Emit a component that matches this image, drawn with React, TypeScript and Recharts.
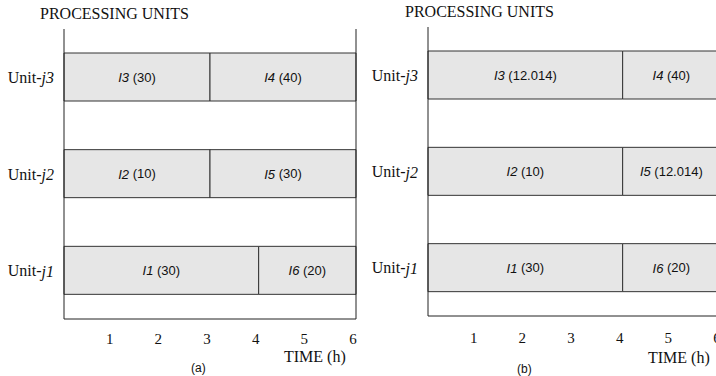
import React from 'react';
import { BarChart, Bar, XAxis, YAxis, ReferenceLine, LabelList } from 'recharts';

// unit rows, top to bottom
const unitIds = ['3', '2', '1'];
const timeTicks = [1, 2, 3, 4, 5, 6];

// panel (a)
const aFirstTask = ['I3', 'I2', 'I1'];
const aFirstHours = [3, 3, 4];
const aFirstValue = ['30', '10', '30'];
const aSecondTask = ['I4', 'I5', 'I6'];
const aSecondHours = [3, 3, 2];
const aSecondValue = ['40', '30', '20'];

// panel (b)
const bFirstTask = ['I3', 'I2', 'I1'];
const bFirstHours = [4, 4, 4];
const bFirstValue = ['12.014', '10', '30'];
const bSecondTask = ['I4', 'I5', 'I6'];
const bSecondHours = [2, 2, 2];
const bSecondValue = ['40', '12.014', '20'];

const SERIF = '"Liberation Serif", "Times New Roman", serif';
const SANS = '"Liberation Sans", Arial, sans-serif';
const LINE = '#222';
const FILL = '#e6e6e6';

const makeLabel = (tasks: string[], values: string[]) => (props: any) => {
  const { x, y, width, height, index } = props;
  return (
    <text
      x={x + width / 2}
      y={y + height / 2}
      textAnchor="middle"
      dominantBaseline="central"
      fontFamily={SANS}
      fontSize={13}
      fill="#111"
    >
      <tspan fontStyle="italic">{tasks[index]}</tspan>
      {' (' + values[index] + ')'}
    </text>
  );
};

const UnitTick = (props: any) => {
  const { x, y, payload } = props;
  return (
    <text x={x - 2} y={y} textAnchor="end" dominantBaseline="central" fontFamily={SERIF} fontSize={16} fill="#111">
      Unit-<tspan fontStyle="italic">j{payload.value}</tspan>
    </text>
  );
};

const makeTimeTick = (dy: number) => (props: any) => {
  const { x, y, payload } = props;
  return (
    <text x={x - 3} y={y} dy={dy} textAnchor="middle" fontFamily={SERIF} fontSize={15} fill="#111">
      {payload.value}
    </text>
  );
};

interface PanelProps {
  firstTask: string[];
  firstHours: number[];
  firstValue: string[];
  secondTask: string[];
  secondHours: number[];
  secondValue: string[];
  yWidth: number;
  top: number;
  bottom: number;
  tickDy: number;
}

const Panel: React.FC<PanelProps> = (p) => {
  const data = unitIds.map((u, i) => ({
    unit: u,
    first: p.firstHours[i],
    second: p.secondHours[i],
  }));
  return (
    <BarChart
      width={p.yWidth + 296}
      height={376}
      data={data}
      layout="vertical"
      margin={{ top: p.top, right: 4, left: 0, bottom: p.bottom - 30 }}
    >
      <XAxis
        type="number"
        domain={[0, 6]}
        ticks={timeTicks}
        axisLine={{ stroke: LINE }}
        tickLine={false}
        height={30}
        tick={makeTimeTick(p.tickDy)}
      />
      <YAxis
        type="category"
        dataKey="unit"
        width={p.yWidth}
        axisLine={{ stroke: LINE }}
        tickLine={false}
        tick={<UnitTick />}
      />
      <ReferenceLine x={6} stroke={LINE} />
      <Bar dataKey="first" stackId="s" fill={FILL} stroke="#333" barSize={48} isAnimationActive={false}>
        <LabelList content={makeLabel(p.firstTask, p.firstValue)} />
      </Bar>
      <Bar dataKey="second" stackId="s" fill={FILL} stroke="#333" barSize={48} isAnimationActive={false}>
        <LabelList content={makeLabel(p.secondTask, p.secondValue)} />
      </Bar>
    </BarChart>
  );
};

const textStyle = (left: number, top: number, font: string, size: number): React.CSSProperties => ({
  position: 'absolute',
  left,
  top,
  fontFamily: font,
  fontSize: size,
  color: '#111',
  whiteSpace: 'nowrap',
  lineHeight: 1,
});

export default function App() {
  return (
    <div
      style={{
        position: 'fixed',
        left: 0,
        top: 0,
        width: 716,
        height: 376,
        overflow: 'hidden',
        background: '#fff',
      }}
    >
      <div style={{ position: 'absolute', left: 0, top: 0 }}>
        <Panel
          firstTask={aFirstTask}
          firstHours={aFirstHours}
          firstValue={aFirstValue}
          secondTask={aSecondTask}
          secondHours={aSecondHours}
          secondValue={aSecondValue}
          yWidth={64}
          top={29}
          bottom={57}
          tickDy={17}
        />
      </div>
      <div style={{ position: 'absolute', left: 360, top: 0 }}>
        <Panel
          firstTask={bFirstTask}
          firstHours={bFirstHours}
          firstValue={bFirstValue}
          secondTask={bSecondTask}
          secondHours={bSecondHours}
          secondValue={bSecondValue}
          yWidth={68}
          top={27}
          bottom={60}
          tickDy={19}
        />
      </div>
      <div style={textStyle(40, 6, SERIF, 16)}>PROCESSING UNITS</div>
      <div style={textStyle(405, 4, SERIF, 16)}>PROCESSING UNITS</div>
      <div style={textStyle(284, 349, SERIF, 16)}>TIME (h)</div>
      <div style={textStyle(648, 350, SERIF, 16)}>TIME (h)</div>
      <div style={textStyle(191, 362, SANS, 12)}>(a)</div>
      <div style={textStyle(517, 363, SANS, 12)}>(b)</div>
    </div>
  );
}
